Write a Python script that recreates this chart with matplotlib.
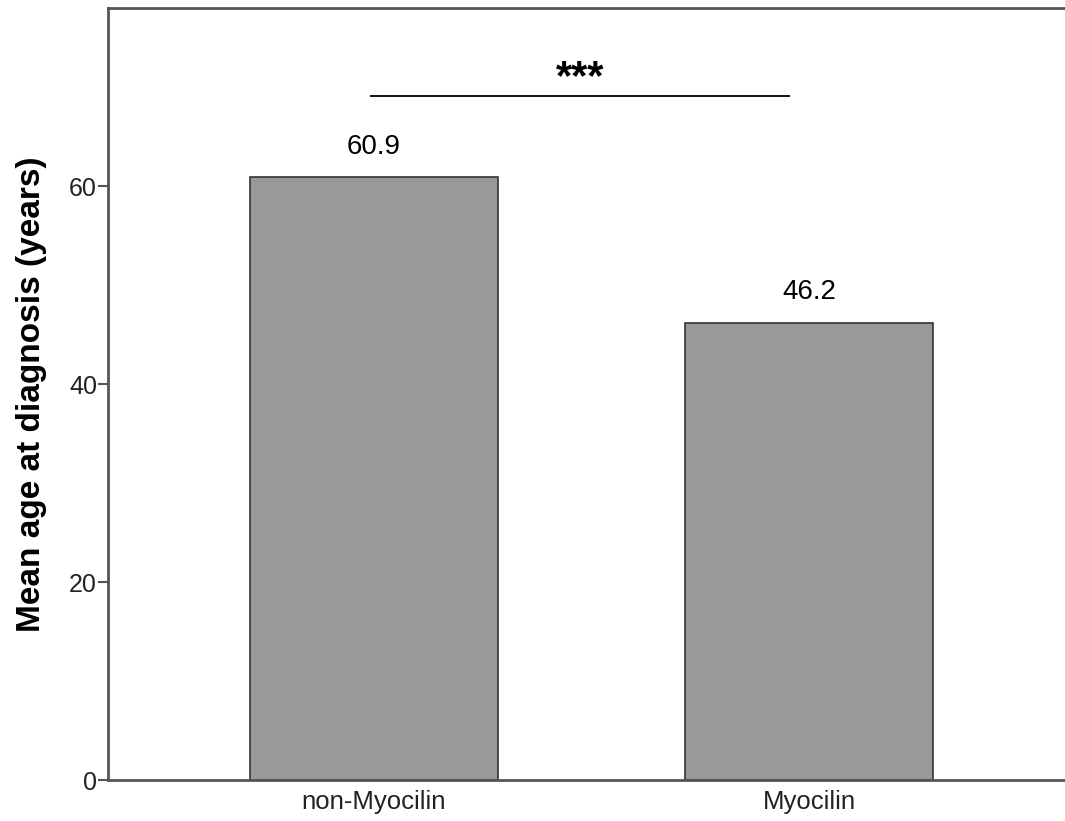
import matplotlib
matplotlib.use("Agg")
import matplotlib.pyplot as plt

plt.rcParams["font.family"] = ["Liberation Sans", "DejaVu Sans"]

# --- data --- #
groups = ["non-Myocilin", "Myocilin"]
mean_age = [60.9, 46.2]
y_ticks = [0, 20, 40, 60]
sig_label = "***"

fig = plt.figure(figsize=(10.65, 8.21), dpi=100)
ax = fig.add_axes([108 / 1065, (821 - 780) / 821, 967 / 1065, 772 / 821])

x = list(range(len(groups)))
ax.bar(x, mean_age, width=0.57, color="#999999", edgecolor="#333333", linewidth=1.2, zorder=2)

# value labels above each bar
for xi, v in zip(x, mean_age):
    ax.text(xi, v + 2.35, f"{v:.1f}", ha="center", va="baseline", fontsize=20, color="black")

# significance bracket between groups
ax.plot([-0.01, 0.955], [69.1, 69.1], color="black", linewidth=1.3, solid_capstyle="butt")
ax.text(0.473, 69.8, sig_label, ha="center", va="baseline", fontsize=30, fontweight="bold")

ax.set_xlim(-0.611, 1.611)
ax.set_ylim(0, 78)
ax.set_yticks(y_ticks)
ax.set_yticklabels([str(t) for t in y_ticks], fontsize=18, color="#222222")
ax.set_xticks(x)
ax.set_xticklabels(groups, fontsize=18.5, color="#222222")
ax.tick_params(axis="x", length=0, pad=7)
ax.tick_params(axis="y", length=7, width=1.5, color="#555555", pad=1)

ax.set_ylabel("Mean age at diagnosis (years)", fontsize=24, fontweight="bold")
ax.yaxis.set_label_coords(-0.063, 0.5)

for side in ["left", "top", "bottom"]:
    ax.spines[side].set_color("#555555")
    ax.spines[side].set_linewidth(2)
ax.spines["right"].set_visible(False)

fig.savefig("out.png", dpi=100)
